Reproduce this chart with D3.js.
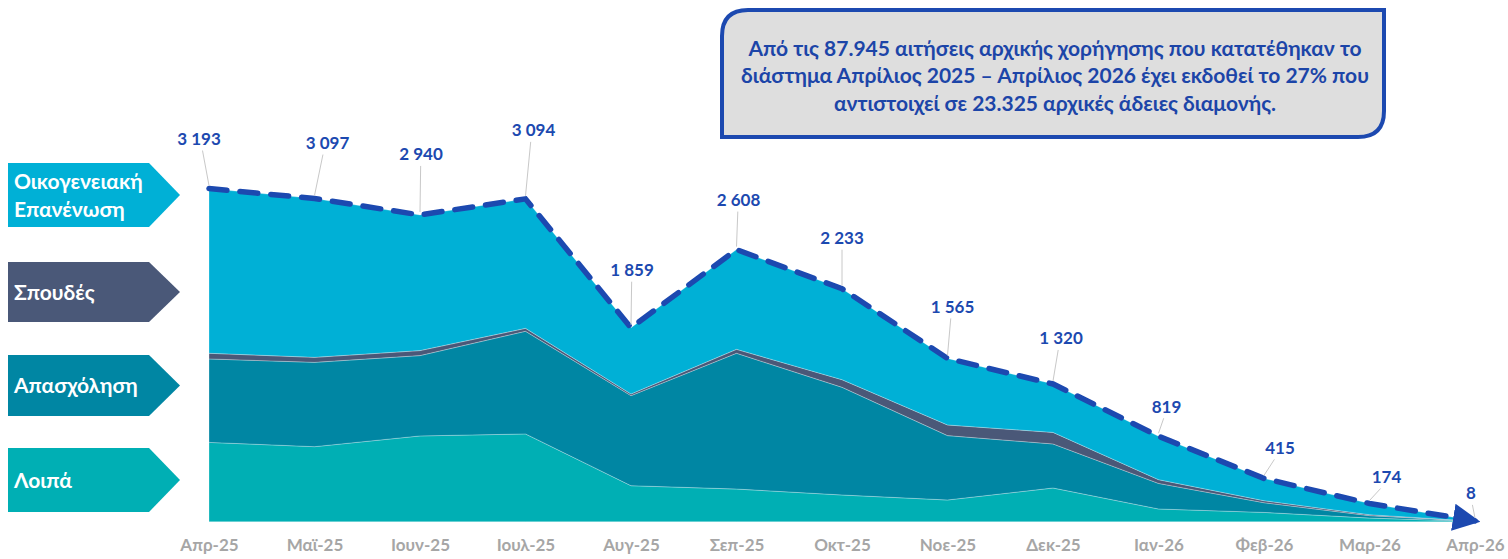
<!DOCTYPE html>
<html>
<head>
<meta charset="utf-8">
<script src="https://cdn.jsdelivr.net/npm/d3@7/dist/d3.min.js"></script>
<style>
  html, body { margin: 0; padding: 0; background: #ffffff; }
  svg { display: block; font-family: Lato, "Open Sans", sans-serif; }
</style>
</head>
<body>
<svg id="chart" width="1508" height="559"></svg>
<script>
// ---------- DATA ----------
const months = ["Απρ-25","Μαϊ-25","Ιουν-25","Ιουλ-25","Αυγ-25","Σεπ-25","Οκτ-25","Νοε-25","Δεκ-25","Ιαν-26","Φεβ-26","Μαρ-26","Απρ-26"];
const seriesNames = ["Λοιπά","Απασχόληση","Σπουδές","Οικογενειακή Επανένωση"];
const loipa       = [760, 719, 822, 841, 345, 313, 256, 208, 323, 122, 89, 35, 3];
const apasxolisi  = [800, 808, 770, 984, 863, 1301, 1032, 617, 422, 245, 93, 23, 2];
const spoudes     = [54, 48, 48, 28, 16, 38, 73, 102, 111, 36, 19, 9, 0];
const oikogeneia  = [1579, 1522, 1300, 1241, 635, 956, 872, 638, 464, 416, 214, 107, 3];
const totals      = [3193, 3097, 2940, 3094, 1859, 2608, 2233, 1565, 1320, 819, 415, 174, 8];
const legendLabels = [["Οικογενειακή","Επανένωση"],["Σπουδές"],["Απασχόληση"],["Λοιπά"]];
const noteLines = [
  "Από τις 87.945 αιτήσεις αρχικής χορήγησης που κατατέθηκαν το",
  "διάστημα Απρίλιος 2025 – Απρίλιος 2026 έχει εκδοθεί το 27% που",
  "αντιστοιχεί σε 23.325 αρχικές άδειες διαμονής."
];

// ---------- STYLE / LAYOUT ----------
const colors = {"Λοιπά":"#00AFB4","Απασχόληση":"#0086A3","Σπουδές":"#4A5878","Οικογενειακή Επανένωση":"#00B0D6"};
const lineColor = "#1C49B0";
const labelOffsets = [[-10,-50],[13,-56],[1,-61],[8,-69],[1,-58],[2,-50],[0,-51],[5,-52],[8,-46],[8,-30],[16,-31],[17,-27],[-4,-28]];

const svg = d3.select("#chart");
const x = d3.scalePoint().domain(months).range([209, 1475]);
const y = d3.scaleLinear().domain([0, 5000]).range([521.7, 0]);

const rows = months.map((m, i) => ({
  month: m,
  "Λοιπά": loipa[i],
  "Απασχόληση": apasxolisi[i],
  "Σπουδές": spoudes[i],
  "Οικογενειακή Επανένωση": oikogeneia[i]
}));

const stack = d3.stack().keys(seriesNames);
const layers = stack(rows);

const area = d3.area()
  .x(d => x(d.data.month))
  .y0(d => y(d[0]))
  .y1(d => y(d[1]));

svg.append("g").selectAll("path")
  .data(layers)
  .join("path")
  .attr("d", area)
  .attr("fill", d => colors[d.key])
  .attr("stroke", "rgba(255,255,255,0.35)")
  .attr("stroke-width", 0.8);

// x axis labels
const xAxis = d3.axisBottom(x).tickSize(0).tickPadding(0);
const gx = svg.append("g").attr("transform", "translate(0,538)").call(xAxis);
gx.select(".domain").remove();
gx.selectAll("text")
  .attr("dy", "0.75em")
  .attr("fill", "#A6A6A6")
  .attr("font-size", 17)
  .attr("font-weight", 700)
  .attr("font-family", "Lato, 'Open Sans', sans-serif");

// total dashed line with arrow
const defs = svg.append("defs");
defs.append("marker")
  .attr("id", "arrow")
  .attr("viewBox", "0 0 10 10")
  .attr("refX", 8).attr("refY", 5)
  .attr("markerWidth", 5).attr("markerHeight", 5)
  .attr("markerUnits", "strokeWidth")
  .attr("orient", "auto")
  .append("path")
  .attr("d", "M0,0 L10,5 L0,10 z")
  .attr("fill", lineColor);

const line = d3.line().x((d, i) => x(months[i])).y(d => y(d));
svg.append("path")
  .datum(totals)
  .attr("d", line)
  .attr("fill", "none")
  .attr("stroke", lineColor)
  .attr("stroke-width", 5.5)
  .attr("stroke-dasharray", "18,13")
  .attr("stroke-linecap", "round")
  .attr("marker-end", "url(#arrow)");

// data labels with leader lines
const fmt = d3.formatLocale({decimal: ",", thousands: " ", grouping: [3], currency: ["", "€"]}).format(",d");
const lg = svg.append("g");
totals.forEach((v, i) => {
  const px = x(months[i]), py = y(v);
  const lx = px + labelOffsets[i][0], ly = py + labelOffsets[i][1];
  lg.append("line")
    .attr("x1", lx - (labelOffsets[i][0] * 0.35)).attr("y1", ly + 12)
    .attr("x2", px).attr("y2", py - 3)
    .attr("stroke", "#C8C8C8").attr("stroke-width", 1);
  lg.append("text")
    .attr("x", lx).attr("y", ly + 6.5)
    .attr("text-anchor", "middle")
    .attr("fill", lineColor)
    .attr("font-size", 17)
    .attr("font-weight", 700)
    .text(fmt(v));
});

// legend chevrons
const legendBoxes = [[163, 227], [262, 322], [355, 416], [448, 512]];
const legendKeys = ["Οικογενειακή Επανένωση","Σπουδές","Απασχόληση","Λοιπά"];
const lgd = svg.append("g");
legendBoxes.forEach((b, i) => {
  const top = b[0], bot = b[1], mid = (top + bot) / 2;
  const pts = [[8, top], [149, top], [180, mid], [149, bot], [8, bot]];
  lgd.append("path")
    .attr("d", d3.line()(pts) + "Z")
    .attr("fill", colors[legendKeys[i]]);
  const lines = legendLabels[i];
  const lh = 28;
  lines.forEach((t, j) => {
    lgd.append("text")
      .attr("x", 14)
      .attr("y", mid + (j - (lines.length - 1) / 2) * lh + 7.5)
      .attr("fill", "#ffffff")
      .attr("font-size", 21)
      .attr("font-weight", 700)
      .text(t);
  });
});

// annotation box
const bx0 = 722, by0 = 10, bx1 = 1384, by1 = 137, r = 26;
const boxPath = `M${bx0},${by0 + r} Q${bx0},${by0} ${bx0 + r},${by0} L${bx1},${by0} L${bx1},${by1 - r} Q${bx1},${by1} ${bx1 - r},${by1} L${bx0},${by1} Z`;
svg.append("path")
  .attr("d", boxPath)
  .attr("fill", "#DEDEDE")
  .attr("stroke", "#1C49B0")
  .attr("stroke-width", 4);
noteLines.forEach((t, i) => {
  svg.append("text")
    .attr("x", (bx0 + bx1) / 2 + 2)
    .attr("y", 55.5 + i * 27.5)
    .attr("text-anchor", "middle")
    .attr("fill", "#1C45A8")
    .attr("font-size", 21)
    .attr("font-weight", 700)
    .text(t);
});
</script>
</body>
</html>
